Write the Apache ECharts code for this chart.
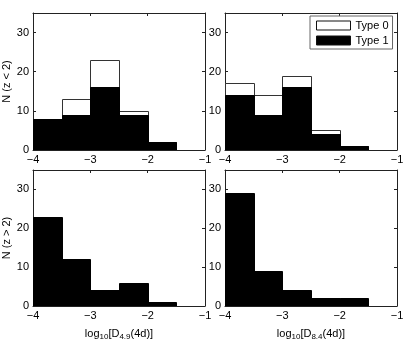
<!DOCTYPE html>
<html>
<head>
<meta charset="utf-8">
<script src="https://cdn.jsdelivr.net/npm/echarts@6/dist/echarts.min.js"></script>
<style>
  html, body { margin: 0; padding: 0; background: #fff; }
  #chart { width: 409px; height: 342px; }
</style>
</head>
<body>
<div id="chart"></div>
<script>
// histogram bins (log10 D) and counts
var binEdges = [-4, -3.5, -3, -2.5, -2, -1.5, -1];
var xTicks = [-4, -3, -2, -1];
var yTicks = [0, 10, 20, 30];

// z < 2, D4.9 (top left)
var lowZ49All = [8, 13, 23, 10, 2, 0];
var lowZ49Type1 = [8, 9, 16, 9, 2, 0];
// z < 2, D8.4 (top right)
var lowZ84All = [17, 14, 19, 5, 1, 0];
var lowZ84Type1 = [14, 9, 16, 4, 1, 0];
// z > 2
var highZ49Type1 = [23, 12, 4, 6, 1, 0];
var highZ84Type1 = [29, 9, 4, 2, 2, 0];

var panels = [
  { left: 33, top: 13, yName: 'N (z < 2)', xName: null, white: lowZ49All, black: lowZ49Type1 },
  { left: 225, top: 13, yName: null, xName: null, white: lowZ84All, black: lowZ84Type1 },
  { left: 33, top: 170, yName: 'N (z > 2)', xName: '4.9', white: null, black: highZ49Type1 },
  { left: 225, top: 170, yName: null, xName: '8.4', white: null, black: highZ84Type1 }
];
var pw = 172, ph = 137;
var FONT = 'Liberation Sans, Arial, sans-serif';

function minus(v) {
  return v < 0 ? '\u2212' + Math.abs(v) : '' + v;
}

function binData(counts) {
  var out = [];
  for (var i = 0; i < counts.length; i++) {
    out.push([binEdges[i], binEdges[i + 1], counts[i]]);
  }
  return out;
}

function barRender(fill, stroke) {
  return function (params, api) {
    var p0 = api.coord([api.value(0), api.value(2)]);
    var p1 = api.coord([api.value(1), 0]);
    var x0 = Math.round(p0[0]) + 0.5, x1 = Math.round(p1[0]) + 0.5;
    var y0 = Math.round(p0[1]) + 0.5, y1 = Math.round(p1[1]) + 0.5;
    return {
      type: 'rect',
      shape: { x: x0, y: y0, width: x1 - x0, height: y1 - y0 },
      style: { fill: fill, stroke: stroke, lineWidth: 1 }
    };
  };
}

var grids = [], xAxes = [], yAxes = [], series = [];
var lblStyle = { color: '#000', fontSize: 11, fontFamily: FONT };
var boxLine = { show: true, onZero: false, lineStyle: { color: '#222', width: 1 } };
var boxTick = { show: true, inside: true, length: 3, lineStyle: { color: '#222' } };

panels.forEach(function (p, i) {
  grids.push({ left: p.left, top: p.top, width: pw, height: ph });
  // bottom x axis with labels, top x axis only for the box + ticks
  var xa = {
    type: 'value', gridIndex: i, min: -4, max: -1, interval: 1, position: 'bottom',
    axisLine: boxLine, axisTick: boxTick,
    axisLabel: Object.assign({ margin: 4, formatter: minus }, lblStyle),
    splitLine: { show: false }
  };
  if (p.xName) {
    xa.name = '{a|log}{s|10}{a|[D}{s|' + p.xName + '}{a|(4d)]}';
    xa.nameLocation = 'middle';
    xa.nameGap = 20;
    xa.nameMoveOverlap = false;
    xa.nameTextStyle = {
      rich: {
        a: { fontSize: 11, color: '#000', fontFamily: FONT, lineHeight: 15 },
        s: { fontSize: 8, color: '#000', fontFamily: FONT, lineHeight: 15, padding: [7, 0, 0, 0] }
      }
    };
  }
  xAxes.push(xa);
  xAxes.push({
    type: 'value', gridIndex: i, min: -4, max: -1, interval: 1, position: 'top',
    axisLine: boxLine, axisTick: boxTick,
    axisLabel: { show: false }, splitLine: { show: false }
  });
  var ya = {
    type: 'value', gridIndex: i, min: 0, max: 35, interval: 10, position: 'left',
    axisLine: boxLine, axisTick: boxTick,
    axisLabel: Object.assign({ margin: 4, showMaxLabel: false }, lblStyle),
    splitLine: { show: false }
  };
  if (p.yName) {
    ya.name = p.yName;
    ya.nameLocation = 'middle';
    ya.nameGap = 21;
    ya.nameMoveOverlap = false;
    ya.nameTextStyle = lblStyle;
  }
  yAxes.push(ya);
  yAxes.push({
    type: 'value', gridIndex: i, min: 0, max: 35, interval: 10, position: 'right',
    axisLine: boxLine, axisTick: boxTick,
    axisLabel: { show: false }, splitLine: { show: false }
  });

  if (p.white) {
    series.push({
      name: 'Type 0', type: 'custom', xAxisIndex: i * 2, yAxisIndex: i * 2,
      renderItem: barRender('#fff', '#333'), data: binData(p.white),
      itemStyle: { color: '#fff' }, silent: true, clip: true
    });
  }
  series.push({
    name: 'Type 1', type: 'custom', xAxisIndex: i * 2, yAxisIndex: i * 2,
    renderItem: barRender('#000', '#000'), data: binData(p.black),
    itemStyle: { color: '#000' }, silent: true, clip: true
  });
});

var chart = echarts.init(document.getElementById('chart'), null, { renderer: 'canvas' });
chart.setOption({
  animation: false,
  backgroundColor: '#fff',
  grid: grids,
  xAxis: xAxes,
  yAxis: yAxes,
  legend: {
    orient: 'vertical', left: 310, top: 16,
    padding: [4, 4, 3, 6], itemGap: 4, itemWidth: 34, itemHeight: 9,
    borderColor: '#666', borderWidth: 1, backgroundColor: '#fff',
    textStyle: { color: '#000', fontSize: 11, fontFamily: FONT },
    selectedMode: false,
    data: [
      { name: 'Type 0', icon: 'rect', itemStyle: { color: '#fff', borderColor: '#111', borderWidth: 1 } },
      { name: 'Type 1', icon: 'rect', itemStyle: { color: '#000', borderColor: '#111', borderWidth: 1 } }
    ]
  },
  series: series
});
</script>
</body>
</html>
